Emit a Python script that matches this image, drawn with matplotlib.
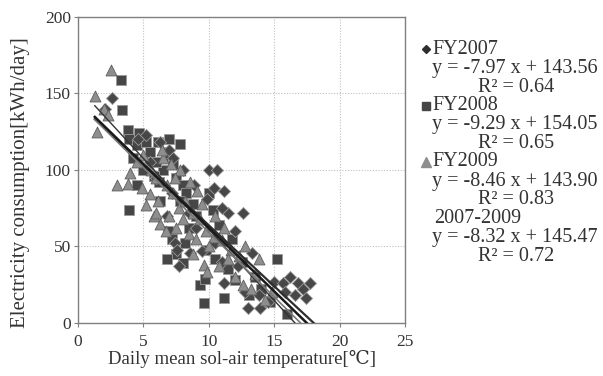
import matplotlib
matplotlib.use("Agg")
import matplotlib.pyplot as plt
import numpy as np

plt.rcParams['font.family'] = ['Liberation Serif', 'DejaVu Serif', 'DejaVu Sans']

# ---- data ----
fy2007_x = [2.6, 2.1, 4.6, 5.2, 6.3, 7.0, 7.3, 8.0, 10.0, 10.6, 10.4, 9.9, 11.2, 8.9, 12.6, 11.5,
            7.4, 7.6, 9.5, 7.7, 8.6, 11.0, 12.0, 13.3, 13.8, 14.5, 15.0, 15.7, 16.2, 16.8, 17.2,
            17.7, 16.6, 17.4, 11.2, 13.0, 13.9, 12.8, 10.5, 6.8, 7.2, 9.0, 12.2, 15.8, 11.0,
            8.5, 6.0, 5.5]
fy2007_y = [147, 140, 120, 123, 118, 113, 108, 100, 100, 100, 88, 81, 86, 90, 72, 72,
            52, 48, 47, 37, 46, 40, 60, 46, 18, 14, 27, 26, 30, 26, 22,
            26, 18, 16, 26, 10, 10, 20, 52, 70, 85, 62, 37, 20, 75,
            72, 95, 105]

fy2008_x = [3.3, 3.4, 3.8, 4.7, 3.9, 4.5, 5.5, 6.1, 6.7, 7.0, 7.3, 6.5, 5.8, 6.2, 7.5, 8.0,
            8.3, 7.8, 3.9, 6.9, 7.2, 7.5, 6.8, 8.0, 9.3, 9.7, 9.6, 11.2, 13.1, 14.7, 16.0,
            15.2, 10.3, 10.8, 9.0, 8.5, 11.8, 12.5, 9.8, 4.5, 5.0, 7.0, 7.8, 6.0, 8.8, 10.0,
            11.5, 12.0, 14.0, 13.5, 6.3, 8.2, 10.5, 5.2, 4.2]
fy2008_y = [159, 139, 126, 124, 120, 116, 112, 118, 112, 108, 104, 100, 96, 92, 95, 90,
            85, 80, 74, 60, 55, 45, 42, 39, 25, 29, 13, 16, 18, 14, 6,
            42, 74, 64, 70, 62, 55, 40, 48, 90, 100, 120, 117, 105, 78, 85,
            35, 28, 22, 30, 80, 52, 42, 118, 108]

fy2009_x = [2.5, 1.3, 2.0, 2.3, 1.5, 3.0, 3.8, 4.5, 5.0, 5.6, 6.0, 6.5, 7.1, 4.9, 5.5, 6.1,
            6.8, 7.3, 7.7, 8.2, 8.8, 9.3, 6.3, 6.7, 7.5, 8.5, 9.0, 9.8, 10.4, 11.0, 11.7,
            12.3, 12.8, 13.8, 7.0, 5.8, 9.5, 10.0, 10.8, 11.5, 12.0, 12.6, 13.2, 13.5, 14.3,
            9.6, 8.0, 6.0, 5.2, 7.8, 8.6, 9.1, 10.5, 11.2, 4.0, 6.4, 7.4, 9.9, 8.8, 14.8]
fy2009_y = [165, 148, 140, 136, 125, 90, 91, 105, 110, 100, 95, 108, 104, 88, 84, 80,
            90, 85, 75, 80, 72, 68, 65, 60, 62, 58, 55, 60, 56, 54, 48,
            44, 50, 42, 70, 70, 78, 50, 37, 42, 30, 25, 22, 32, 15,
            38, 68, 72, 77, 100, 92, 86, 70, 62, 98, 113, 95, 33, 45, 20]

series_names = ["FY2007", "FY2008", "FY2009", "2007-2009"]
slopes = [-7.97, -9.29, -8.46, -8.32]
intercepts = [143.56, 154.05, 143.90, 145.47]
r2 = [0.64, 0.65, 0.83, 0.72]

x_ticks = [0, 5, 10, 15, 20, 25]
y_ticks = [0, 50, 100, 150, 200]

# ---- figure ----
fig = plt.figure(figsize=(6.03, 3.76), dpi=100)
ax = fig.add_axes([0.129, 0.141, 0.543, 0.814])

ax.scatter(fy2008_x, fy2008_y, marker='s', s=48, color='#464646', edgecolors='#9a9a9a',
           linewidths=0.6, zorder=3)
ax.scatter(fy2007_x, fy2007_y, marker='D', s=38, color='#474747', edgecolors='#9a9a9a',
           linewidths=0.6, zorder=3)
ax.scatter(fy2009_x, fy2009_y, marker='^', s=62, color='#8e8e8e', edgecolors='#5e5e5e',
           linewidths=0.6, zorder=4)

line_styles = [dict(color='#2e2e2e', lw=1.6), dict(color='#333333', lw=1.0),
               dict(color='#7a7a7a', lw=1.2), dict(color='#1a1a1a', lw=1.8)]
xs_all = fy2007_x + fy2008_x + fy2009_x
for m, b, st in zip(slopes, intercepts, line_styles):
    x0 = min(xs_all)
    x1 = -b / m
    xx = np.array([x0, x1])
    ax.plot(xx, m * xx + b, zorder=5, **st)

ax.set_xlim(0, 25)
ax.set_ylim(0, 200)
ax.set_xticks(x_ticks)
ax.set_yticks(y_ticks)
ax.grid(True, linestyle=(0, (1, 1.5)), color='#c0c0c0', linewidth=0.8)
ax.set_axisbelow(True)
for sp in ax.spines.values():
    sp.set_color('#808080')
    sp.set_linewidth(1.0)
ax.tick_params(axis='both', labelsize=12.5, colors='#808080', labelcolor='#333333',
               length=3, direction='out', pad=2)
ax.tick_params(axis='x', pad=5)
ax.set_xlabel("Daily mean sol-air temperature[℃]", fontsize=13.5, color='#333333', labelpad=0)
ax.set_ylabel("Electricity consumption[kWh/day]", fontsize=15, color='#333333')
ax.yaxis.set_label_coords(-0.145, 0.46)

# ---- legend text block ----
W, H = 603, 376
def fx(px): return px / W
def fy(py): return 1 - py / H

markers = ['D', 's', '^', None]
mcolors = ['#2e2e2e', '#464646', '#8e8e8e', None]
msizes = [4.5, 6, 6.5, 0]
base_y = 49
step = 56.5
fs = 14.5
for i, name in enumerate(series_names):
    y0 = base_y + i * step
    if markers[i]:
        fig.lines.append(plt.Line2D([fx(426)], [fy(y0)], marker=markers[i], color=mcolors[i],
                                    markersize=msizes[i], linestyle='none',
                                    transform=fig.transFigure))
        fig.text(fx(432), fy(y0), name, fontsize=fs, va='center', ha='left', color='#333333')
    else:
        fig.text(fx(434), fy(y0), name, fontsize=fs, va='center', ha='left', color='#333333')
    eq = f"y = {slopes[i]:.2f} x + {intercepts[i]:.2f}"
    fig.text(fx(432), fy(y0 + 19), eq, fontsize=fs, va='center', ha='left', color='#333333')
    fig.text(fx(478), fy(y0 + 38), f"R² = {r2[i]:.2f}", fontsize=fs, va='center', ha='left',
             color='#333333')

fig.savefig("out.png", dpi=100)
